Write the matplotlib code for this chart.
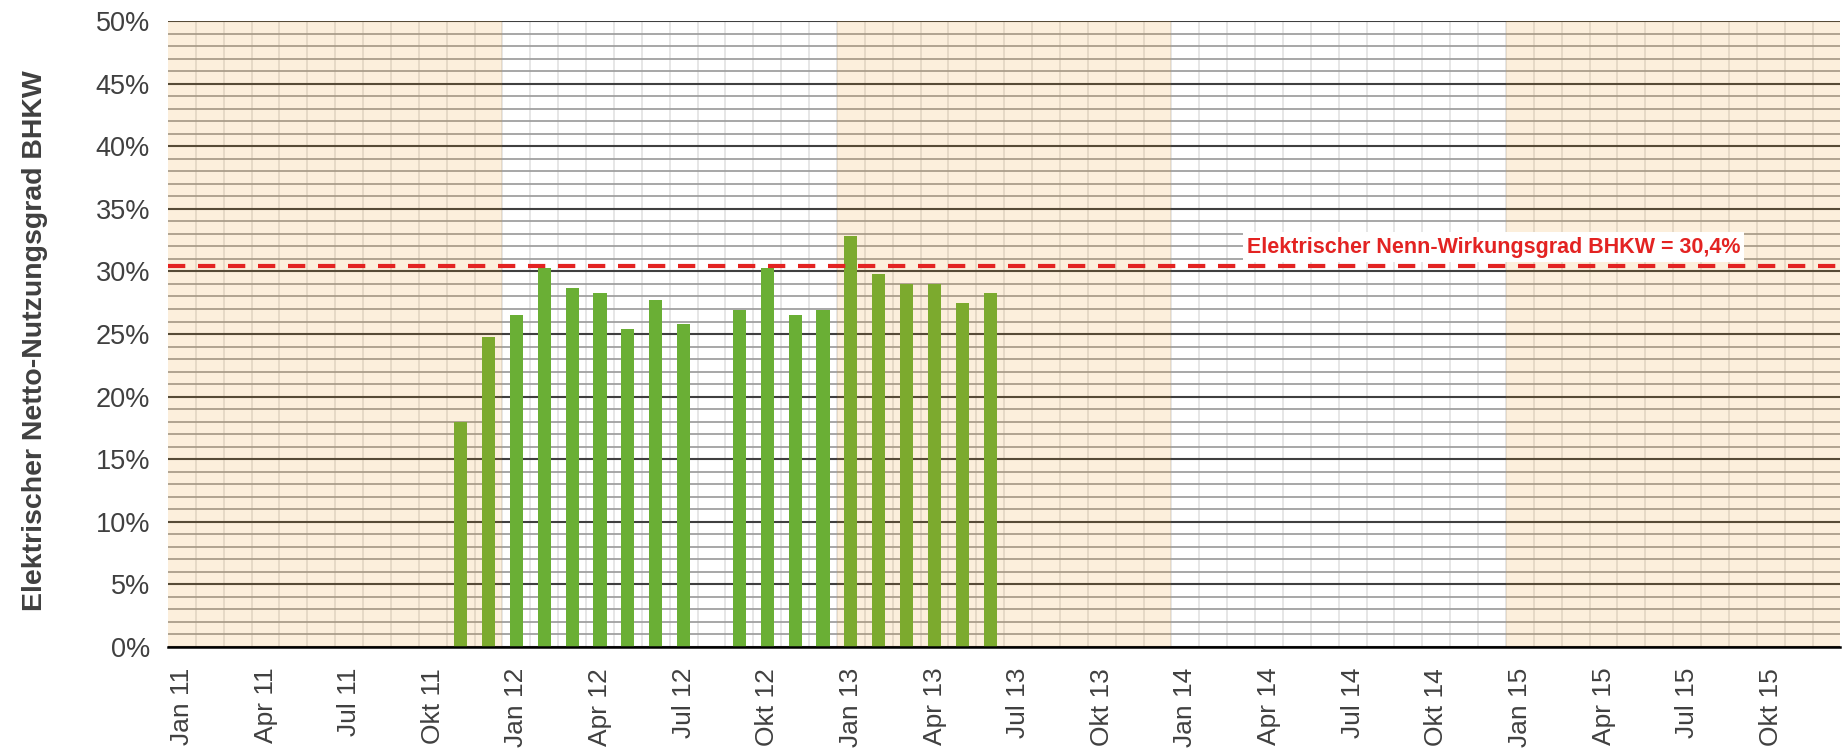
import numpy as np
import matplotlib
matplotlib.use("Agg")
import matplotlib.pyplot as plt
from matplotlib.ticker import MultipleLocator, FixedLocator, FuncFormatter

plt.rcParams['font.family'] = ['Liberation Sans', 'DejaVu Sans']

# month axis: Jan 11 .. Dez 15
month_names = ['Jan', 'Feb', 'Mrz', 'Apr', 'Mai', 'Jun', 'Jul', 'Aug', 'Sep', 'Okt', 'Nov', 'Dez']
years = ['11', '12', '13', '14', '15']
months = [f'{m} {y}' for y in years for m in month_names]

# measured efficiency per month (%)
bar_months = ['Nov 11', 'Dez 11', 'Jan 12', 'Feb 12', 'Mrz 12', 'Apr 12', 'Mai 12', 'Jun 12', 'Jul 12',
              'Sep 12', 'Okt 12', 'Nov 12', 'Dez 12', 'Jan 13', 'Feb 13', 'Mrz 13', 'Apr 13', 'Mai 13', 'Jun 13']
bar_values = [18.0, 24.8, 26.5, 30.3, 28.7, 28.3, 25.4, 27.7, 25.8,
              26.9, 30.3, 26.5, 26.9, 32.8, 29.8, 29.0, 29.0, 27.5, 28.3]

nominal = 30.4
nominal_label = 'Elektrischer Nenn-Wirkungsgrad BHKW = 30,4%'
shaded_years = ['11', '13', '15']
tick_months = ['Jan', 'Apr', 'Jul', 'Okt']

fig = plt.figure(figsize=(18.46, 7.54), dpi=100)
ax = fig.add_axes([0.091, 0.142, 0.906, 0.83])

x = [months.index(m) for m in bar_months]
ax.bar(x, bar_values, width=0.47, color='#6aaf35', zorder=3)

# beige year bands drawn on top (tint the bars and grid)
for y in shaded_years:
    i0 = months.index(f'Jan {y}')
    ax.axvspan(i0 - 0.5, i0 + 11.5, color='#ea8e07', alpha=0.14, lw=0, zorder=4)

ax.axhline(nominal, color='#e32322', lw=3, linestyle=(0, (4.15, 3.05)), zorder=5)
ax.text(38.2, 31.95, nominal_label, color='#e32322', fontsize=15.5, fontweight='bold',
        ha='left', va='center', zorder=6,
        bbox=dict(facecolor='white', edgecolor='none', pad=3))

ax.set_xlim(-0.5, len(months) - 0.5)
ax.set_ylim(0, 50)

ax.yaxis.set_major_locator(MultipleLocator(5))
ax.yaxis.set_minor_locator(MultipleLocator(1))
ax.yaxis.set_major_formatter(FuncFormatter(lambda v, p: f'{v:.0f}%'))

tick_idx = [i for i, m in enumerate(months) if m.split()[0] in tick_months]
ax.xaxis.set_major_locator(FixedLocator(tick_idx))
ax.set_xticklabels([months[i] for i in tick_idx], rotation=90)
ax.xaxis.set_minor_locator(FixedLocator(np.arange(0.5, len(months) - 1, 1)))

ax.grid(axis='y', which='minor', color='#a0a0a0', lw=1.3, zorder=0)
ax.grid(axis='y', which='major', color='#404040', lw=1.5, zorder=0)
ax.grid(axis='x', which='minor', color='#e2e2e2', lw=1.2, zorder=0)
ax.grid(axis='x', which='major', visible=False)
ax.set_axisbelow(True)

ax.tick_params(axis='both', which='both', length=0)
ax.tick_params(axis='y', labelsize=19.5, labelcolor='#404040', pad=13)
ax.tick_params(axis='x', labelsize=19, labelcolor='#404040', pad=15)

for s in ['top', 'right', 'left']:
    ax.spines[s].set_visible(False)
ax.spines['bottom'].set_color('black')
ax.spines['bottom'].set_linewidth(1.8)
ax.spines['bottom'].set_zorder(7)

fig.text(0.019, 0.548, 'Elektrischer Netto-Nutzungsgrad BHKW', rotation=90,
         fontsize=20.5, fontweight='bold', color='#404040',
         ha='center', va='center')

fig.savefig('out.png', dpi=100)
